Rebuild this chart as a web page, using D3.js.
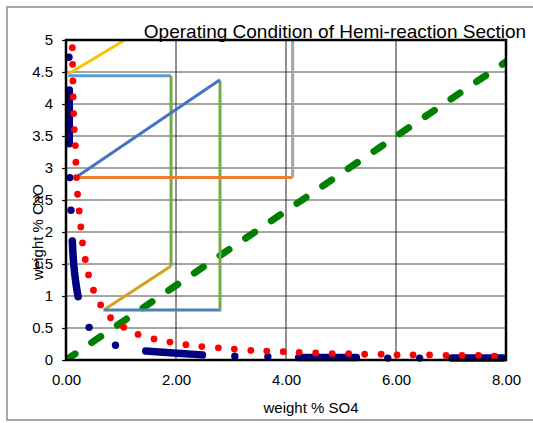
<!DOCTYPE html>
<html>
<head>
<meta charset="utf-8">
<script src="https://cdn.jsdelivr.net/npm/d3@7"></script>
<style>
  html, body { margin: 0; padding: 0; background: #fff; }
  svg { display: block; font-family: "Liberation Sans", Arial, sans-serif; }
</style>
</head>
<body>
<svg id="chart" width="533" height="423"></svg>
<script>
// ---------- data ----------
const titleText = "Operating Condition of Hemi-reaction Section";
const xTitle = "weight % SO4";
const yTitle = "weight % CaO";

const xTicks = [0, 2, 4, 6, 8];
const xTickLabels = ["0.00", "2.00", "4.00", "6.00", "8.00"];
const yTicks = [0, 0.5, 1, 1.5, 2, 2.5, 3, 3.5, 4, 4.5, 5];
const yTickLabels = ["0", "0.5", "1", "1.5", "2", "2.5", "3", "3.5", "4", "4.5", "5"];

// red dotted series
const redX = [0.115, 0.12, 0.125, 0.13, 0.14, 0.15, 0.17, 0.18, 0.19, 0.21, 0.24, 0.27, 0.30, 0.35, 0.41, 0.50, 0.63, 0.81, 1.05, 1.31, 1.60, 1.89, 2.18, 2.47, 2.77, 3.06, 3.36, 3.65, 3.95, 4.24, 4.54, 4.84, 5.14, 5.43, 5.73, 6.02, 6.31, 6.61, 6.91, 7.20, 7.50, 7.79];
const redY = [4.88, 4.62, 4.36, 4.11, 3.85, 3.60, 3.35, 3.09, 2.85, 2.59, 2.33, 2.08, 1.83, 1.57, 1.33, 1.09, 0.86, 0.66, 0.51, 0.40, 0.33, 0.28, 0.24, 0.21, 0.19, 0.17, 0.15, 0.14, 0.13, 0.12, 0.11, 0.10, 0.10, 0.09, 0.09, 0.08, 0.08, 0.08, 0.07, 0.07, 0.07, 0.06];

// navy series: isolated points
const navyX = [0.055, 0.07, 0.09, 0.42, 0.90, 3.07, 3.67, 5.85, 6.43];
const navyY = [4.73, 2.85, 2.34, 0.51, 0.23, 0.06, 0.05, 0.03, 0.03];
// navy series: dense runs of points (appear as thick strokes)
const navyRunX = [[0.06, 0.06], [0.115, 0.14, 0.18, 0.22], [1.45, 1.95, 2.48], [4.23, 5.28], [7.01, 7.95]];
const navyRunY = [[4.22, 3.38], [1.86, 1.50, 1.20, 0.99], [0.14, 0.11, 0.08], [0.04, 0.04], [0.03, 0.03]];

// operating lines
const segX = [[0.04, 1.07], [0.04, 1.91], [1.91, 1.91], [1.91, 0.70], [0.68, 2.82], [2.80, 2.80], [0.19, 2.80], [0.16, 4.12], [4.12, 4.12]];
const segY = [[4.47, 5.00], [4.44, 4.44], [4.44, 1.47], [1.47, 0.79], [0.78, 0.78], [0.78, 4.36], [2.86, 4.38], [2.85, 2.85], [2.85, 5.00]];
const segColors = ["#FFC000", "#5B9BD5", "#70AD47", "#D4A31C", "#4E80B2", "#70AD47", "#4472C4", "#ED7D31", "#A5A5A5"];

// green dashed line
const dashX = [0, 8];
const dashY = [0, 4.66];

// ---------- layout ----------
const svg = d3.select("#chart");
const L = 66, T = 40, R = 506, B = 360;
const x = d3.scaleLinear().domain([0, 8]).range([L, R]);
const y = d3.scaleLinear().domain([0, 5]).range([B, T]);

// outer frame
svg.append("rect").attr("x", 7).attr("y", 7).attr("width", 540).attr("height", 413)
  .attr("fill", "#fff").attr("stroke", "#8c8c8c").attr("stroke-width", 1.5);

// clip
svg.append("clipPath").attr("id", "plotclip").append("rect")
  .attr("x", L).attr("y", T).attr("width", R - L).attr("height", B - T);

// grid
svg.append("g").selectAll("line").data(yTicks.filter(d => d > 0 && d < 5)).join("line")
  .attr("x1", L).attr("x2", R).attr("y1", d => y(d)).attr("y2", d => y(d))
  .attr("stroke", "#4a4a4a").attr("stroke-width", 1);
svg.append("g").selectAll("line").data(xTicks.filter(d => d > 0 && d < 8)).join("line")
  .attr("y1", T).attr("y2", B).attr("x1", d => x(d)).attr("x2", d => x(d))
  .attr("stroke", "#222").attr("stroke-width", 1);

const plot = svg.append("g").attr("clip-path", "url(#plotclip)");
const line = d3.line().x(d => x(d[0])).y(d => y(d[1]));

// green dashed
plot.append("path").datum(dashX.map((v, i) => [v, dashY[i]])).attr("d", line)
  .attr("fill", "none").attr("stroke", "#008000").attr("stroke-width", 7)
  .attr("stroke-linecap", "round").attr("stroke-dasharray", "11 20");

// navy runs
const navyG = svg.append("g");
navyRunX.forEach((xs, k) => {
  navyG.append("path").datum(xs.map((v, i) => [v, navyRunY[k][i]]))
    .attr("d", d3.line().x(d => x(d[0])).y(d => y(d[1])).curve(d3.curveMonotoneY))
    .attr("fill", "none").attr("stroke", "#000080").attr("stroke-width", 7.5)
    .attr("stroke-linecap", "round").attr("stroke-linejoin", "round");
});
navyG.selectAll("circle").data(navyX.map((v, i) => [v, navyY[i]])).join("circle")
  .attr("cx", d => x(d[0])).attr("cy", d => y(d[1])).attr("r", 3.7).attr("fill", "#000080");

// red dots
svg.append("g").selectAll("circle").data(redX.map((v, i) => [v, redY[i]])).join("circle")
  .attr("cx", d => x(d[0])).attr("cy", d => y(d[1])).attr("r", 3.4).attr("fill", "#FF0000");

// operating lines
segX.forEach((xs, k) => {
  plot.append("path").datum(xs.map((v, i) => [v, segY[k][i]])).attr("d", line)
    .attr("fill", "none").attr("stroke", segColors[k]).attr("stroke-width", 3)
    .attr("stroke-linecap", "butt");
});

// plot border
svg.append("rect").attr("x", L).attr("y", T).attr("width", R - L).attr("height", B - T)
  .attr("fill", "none").attr("stroke", "#000").attr("stroke-width", 2.5);

// axes
const yAxis = svg.append("g").attr("transform", `translate(${L},0)`)
  .call(d3.axisLeft(y).tickValues(yTicks).tickFormat((d, i) => yTickLabels[i]).tickSize(4).tickPadding(9));
yAxis.select(".domain").remove();
yAxis.selectAll("line").attr("stroke", "#000").attr("stroke-width", 1.2);
yAxis.selectAll("text").attr("font-size", 15).attr("fill", "#000")
  .attr("font-family", "'Liberation Sans', Arial, sans-serif");

const xAxis = svg.append("g").attr("transform", `translate(0,${B})`)
  .call(d3.axisBottom(x).tickValues(xTicks).tickFormat((d, i) => xTickLabels[i]).tickSize(0).tickPadding(14));
xAxis.select(".domain").remove();
xAxis.selectAll("text").attr("font-size", 15).attr("fill", "#000")
  .attr("font-family", "'Liberation Sans', Arial, sans-serif");

// titles
svg.append("text").attr("x", 335).attr("y", 38).attr("text-anchor", "middle")
  .attr("font-size", 19).attr("fill", "#000").text(titleText);
svg.append("text").attr("x", 311).attr("y", 413).attr("text-anchor", "middle")
  .attr("font-size", 15).attr("fill", "#000").text(xTitle);
svg.append("text").attr("transform", "translate(43,232) rotate(-90)").attr("text-anchor", "middle")
  .attr("font-size", 15).attr("fill", "#000").text(yTitle);
</script>
</body>
</html>
